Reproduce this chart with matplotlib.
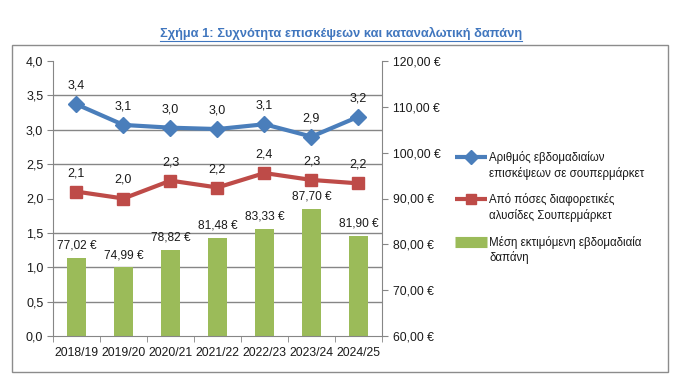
import matplotlib
matplotlib.use("Agg")
import matplotlib.pyplot as plt
from matplotlib.ticker import FixedLocator, MultipleLocator
from matplotlib.patches import Rectangle
from matplotlib.lines import Line2D

plt.rcParams['font.family'] = ['Liberation Sans Narrow', 'Liberation Sans', 'DejaVu Sans']

categories = ["2018/19", "2019/20", "2020/21", "2021/22", "2022/23", "2023/24", "2024/25"]
visits = [3.37, 3.07, 3.03, 3.01, 3.08, 2.90, 3.19]
chains = [2.10, 2.00, 2.26, 2.16, 2.37, 2.27, 2.22]
spending = [77.02, 74.99, 78.82, 81.48, 83.33, 87.70, 81.90]

label_visits = "Αριθμός εβδομαδιαίων\nεπισκέψεων σε σουπερμάρκετ"
label_chains = "Από πόσες διαφορετικές\nαλυσίδες Σουπερμάρκετ"
label_spend = "Μέση εκτιμόμενη εβδομαδιαία\nδαπάνη"
title = "Σχήμα 1: Συχνότητα επισκέψεων και καταναλωτική δαπάνη"

blue = "#4A7EBB"
red = "#BE4B48"
green = "#9BBB59"
grid_c = "#868686"
txt_c = "#1a1a1a"

W, H = 681, 381
fig = plt.figure(figsize=(W / 100, H / 100), dpi=100)

# outer border
fig.patches.append(Rectangle((12 / W, 1 - 372 / H), (668 - 12) / W, (372 - 45) / H,
                             transform=fig.transFigure, fill=False, edgecolor="#8C8C8C", lw=1.0))

pos = [53 / W, 1 - 336 / H, (382 - 53) / W, (336 - 61) / H]
ax2 = fig.add_axes(pos)
ax = fig.add_axes(pos, sharex=ax2)
ax.set_zorder(ax2.get_zorder() + 1)
ax.patch.set_visible(False)

x = list(range(len(categories)))
left_lim = (0, 4)
right_lim = (60, 120)

# bars on right scale
ax2.bar(x, [v - right_lim[0] for v in spending], bottom=right_lim[0], width=0.39, color=green, zorder=2)
ax2.set_ylim(*right_lim)
ax2.set_xlim(-0.5, len(categories) - 0.5)
for xi, v in zip(x, spending):
    ax2.annotate(f"{v:.2f} €".replace('.', ','), (xi, v), xytext=(0, 4.5), textcoords="offset points",
                 ha="center", va="bottom", fontsize=8.6, color=txt_c)
ax2.yaxis.tick_right()
ax2.yaxis.set_major_locator(MultipleLocator(10))
ax2.set_yticklabels([f"{t:.2f} €".replace('.', ',') for t in ax2.get_yticks()])
left_ticks = [i * 0.5 for i in range(9)]
grid_pos = [right_lim[0] + (t - left_lim[0]) / (left_lim[1] - left_lim[0]) * (right_lim[1] - right_lim[0]) for t in left_ticks]
ax2.yaxis.set_minor_locator(FixedLocator(grid_pos))
ax2.grid(which="minor", axis="y", color=grid_c, lw=1.0, zorder=0)
ax2.set_axisbelow(True)
ax2.tick_params(axis="y", which="minor", length=0)
ax2.tick_params(axis="y", which="major", direction="out", length=4, color=grid_c, labelsize=8.8, pad=4,
                labelcolor=txt_c)
for s in ["left", "top", "bottom"]:
    ax2.spines[s].set_visible(False)
ax2.spines["right"].set_color(grid_c)
ax2.tick_params(axis="x", which="both", bottom=False, labelbottom=False)

# lines on left scale
ax.plot(x, visits, color=blue, lw=3, marker="D", ms=8, zorder=3)
ax.plot(x, chains, color=red, lw=3, marker="s", ms=8, zorder=3)
for series in (visits, chains):
    for xi, v in zip(x, series):
        ax.annotate(f"{v:.1f}".replace('.', ','), (xi, v), xytext=(0, 9), textcoords="offset points",
                    ha="center", va="bottom", fontsize=9, color=txt_c)
ax.set_ylim(*left_lim)
ax.set_yticks(left_ticks)
ax.set_yticklabels([f"{t:.1f}".replace('.', ',') for t in left_ticks])
ax.tick_params(axis="y", direction="out", length=4, color=grid_c, labelsize=9, pad=3, labelcolor=txt_c)
ax.set_xticks(x)
ax.set_xticklabels(categories)
ax.xaxis.set_minor_locator(FixedLocator([i - 0.5 for i in range(len(categories) + 1)]))
ax.tick_params(axis="x", which="major", length=0, labelsize=8.8, pad=8, labelcolor=txt_c)
ax.tick_params(axis="x", which="minor", direction="out", length=4, color=grid_c)
for s in ["top", "right"]:
    ax.spines[s].set_visible(False)
ax.spines["left"].set_color(grid_c)
ax.spines["bottom"].set_color(grid_c)

# legend (drawn manually so the key aligns with the first text line)
leg_items = [
    (blue, 3, "D", label_visits, 157),
    (red, 3, "s", label_chains, 199),
    (green, 8, None, label_spend, 242),
]
for col, lw, mk, lab, yp in leg_items:
    fy = 1 - yp / H
    fig.add_artist(Line2D([455 / W, 487 / W], [fy, fy], transform=fig.transFigure,
                          color=col, lw=lw, solid_capstyle="butt"))
    if mk is not None:
        fig.add_artist(Line2D([471 / W], [fy], transform=fig.transFigure, color=col,
                              marker=mk, ms=7, lw=0))
    fig.text(489 / W, fy + 6 / H, lab, ha="left", va="top", fontsize=8.3, color=txt_c, linespacing=1.25)

# title with underline
t = fig.text(341 / W, 1 - 33 / H, title, ha="center", va="center", fontsize=9.3, fontweight="bold", color="#4076BE")
fig.canvas.draw()
bb = t.get_window_extent().transformed(fig.transFigure.inverted())
fig.add_artist(Line2D([bb.x0, bb.x1], [bb.y0 - 0.003, bb.y0 - 0.003], transform=fig.transFigure,
                      color="#4076BE", lw=0.8))

fig.savefig("out.png", dpi=100)
